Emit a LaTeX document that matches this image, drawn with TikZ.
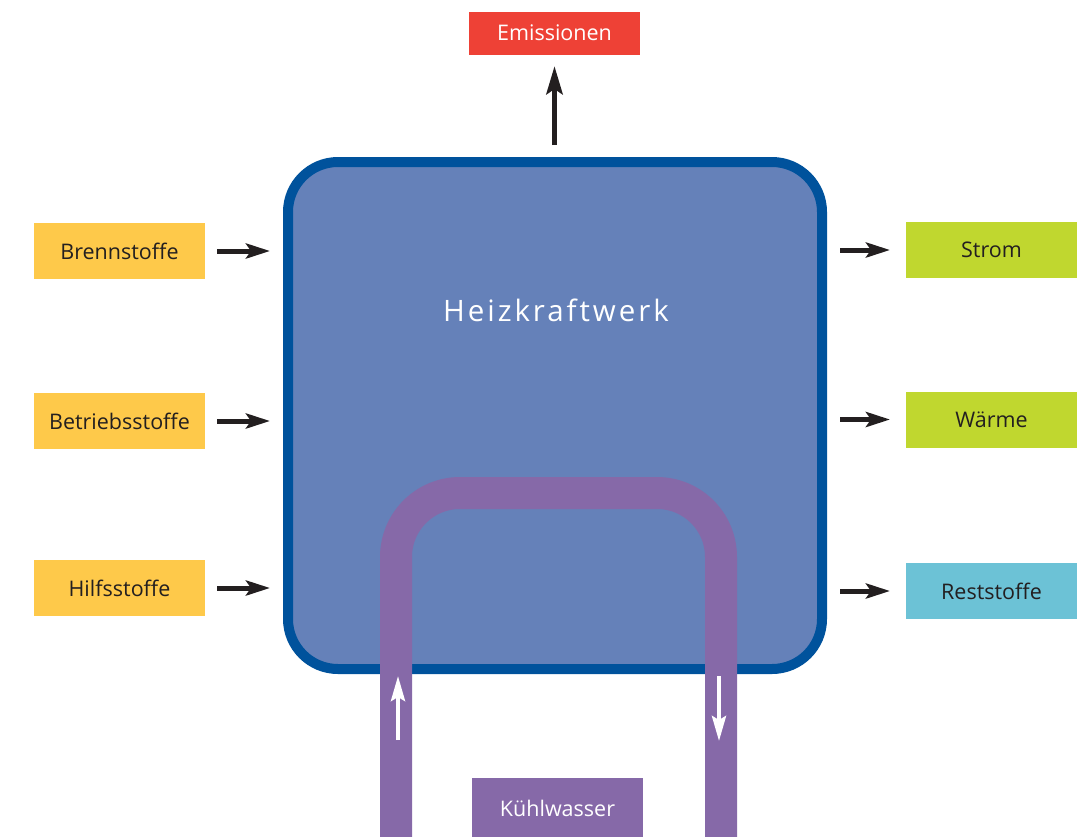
\documentclass[tikz,border=0pt]{standalone}
\usepackage{fontspec}
\setmainfont{Open Sans}
\newfontfamily\widefont[LetterSpace=10]{Open Sans}
\usetikzlibrary{arrows.meta}

\definecolor{plantfill}{HTML}{6581B9}
\definecolor{plantline}{HTML}{00529C}
\definecolor{coolpurple}{HTML}{8669A8}
\definecolor{inyellow}{HTML}{FEC94A}
\definecolor{outgreen}{HTML}{C0D72F}
\definecolor{outcyan}{HTML}{6CC2D6}
\definecolor{emired}{HTML}{EE4136}
\definecolor{inkdark}{HTML}{231F20}

\tikzset{
  flowbox/.style={minimum width=171pt, minimum height=56pt, inner sep=0pt,
    outer sep=0pt, font=\fontsize{21.5}{25}\selectfont, text=inkdark},
  inbox/.style={flowbox, fill=inyellow},
  outbox/.style={flowbox, fill=outgreen},
  flowarrow/.style={draw=inkdark, line width=5pt,
    -{Stealth[length=24pt, width=15pt, inset=5pt]}},
  waterarrow/.style={draw=white, line width=4pt,
    -{Stealth[length=25pt, width=14pt, inset=4pt]}},
}

\begin{document}
\begin{tikzpicture}[x=1pt, y=-1pt]
\useasboundingbox (0,0) rectangle (1087,836);
\clip (0,0) rectangle (1087,836);

% power plant block
\node[draw=plantline, fill=plantfill, line width=10pt, rounded corners=50pt,
  minimum width=534pt, minimum height=507pt, inner sep=0pt, outer sep=5pt]
  (plant) at (555,415.5) {};
\node[text=white, font=\widefont\fontsize{29.5}{34}\selectfont] (title) at (556,310) {Heizkraftwerk};

% cooling water loop
\draw[coolpurple, line width=32pt, rounded corners=64pt]
  (396,840) -- (396,493) -- (721,493) -- (721,840);
\coordinate (upstart) at (398,740);
\coordinate (upend) at (398,676);
\coordinate (downstart) at (719,676);
\coordinate (downend) at (719,741);
\draw[waterarrow] (upstart) -- (upend);
\draw[waterarrow] (downstart) -- (downend);
\node[flowbox, fill=coolpurple, text=white, minimum height=60pt, anchor=north west]
  (cool) at (472,778) {Kühlwasser};

% inputs
\node[inbox] (brenn) at (119.5,251) {Brennstoffe};
\node[inbox] (betrieb) at (119.5,421) {Betriebsstoffe};
\node[inbox] (hilf) at (119.5,588) {Hilfsstoffe};

% outputs
\node[outbox] (strom) at (991.5,250) {Strom};
\node[outbox] (waerme) at (991.5,419.5) {Wärme};
\node[flowbox, fill=outcyan] (rest) at (991.5,591) {Reststoffe};

% emissions
\node[flowbox, fill=emired, text=white, minimum height=43pt] (emi) at (554.5,33.5) {\raisebox{1.5pt}{Emissionen}};

% arrows
\foreach \src in {brenn,betrieb,hilf}
  \draw[flowarrow, shorten <=12pt, shorten >=13pt] (\src.east) -- (\src.east -| plant.west);
\foreach \dst in {strom,waerme,rest}
  \draw[flowarrow, shorten <=13pt, shorten >=16pt] (\dst.west -| plant.east) -- (\dst.west);
\draw[flowarrow, line width=5.5pt, -{Stealth[length=28pt, width=16pt, inset=5pt]},
  shorten <=12pt, shorten >=11pt] (emi.south |- plant.north) -- (emi.south);
\end{tikzpicture}
\end{document}
